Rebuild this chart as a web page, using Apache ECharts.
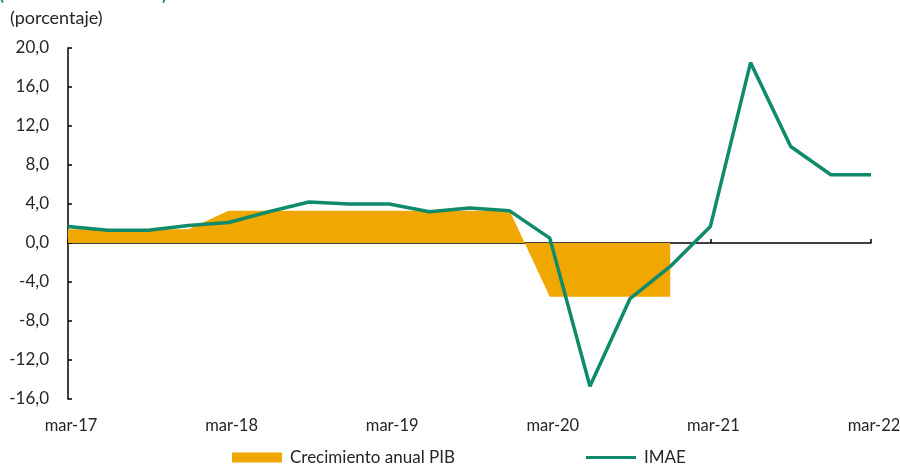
<!DOCTYPE html>
<html>
<head>
<meta charset="utf-8">
<script src="https://cdn.jsdelivr.net/npm/echarts@6/dist/echarts.min.js"></script>
<style>
  html, body { margin: 0; padding: 0; background: #fff; }
  #chart { width: 900px; height: 464px; }
</style>
</head>
<body>
<div id="chart"></div>
<script>
// trimestres mar-17 .. mar-22
const quarters = [
  'mar-17', 'jun-17', 'sep-17', 'dic-17',
  'mar-18', 'jun-18', 'sep-18', 'dic-18',
  'mar-19', 'jun-19', 'sep-19', 'dic-19',
  'mar-20', 'jun-20', 'sep-20', 'dic-20',
  'mar-21', 'jun-21', 'sep-21', 'dic-21',
  'mar-22'
]
const pib = [
  1.4, 1.4, 1.4, 1.4,
  3.3, 3.3, 3.3, 3.3,
  3.3, 3.3, 3.3, 3.3,
  -5.5, -5.5, -5.5, -5.5,
  null, null, null, null,
  null
]
const imae = [
  1.7, 1.3, 1.3, 1.8,
  2.1, 3.2, 4.2, 4.0,
  4.0, 3.2, 3.6, 3.3,
  0.5, -14.7, -5.7, -2.4,
  1.7, 18.5, 9.9, 7.0,
  7.0
]

const orange = '#f0a800'
const green = '#0f8a6b'
const font = 'Lato'
const txt = '#262626'
// thin line legend icon (extra points keep the 50x10 box)
const lineIcon = 'path://M0,0L0.01,0L0.01,0.01ZM0,3.6H50V6.4H0ZM49.99,10L50,10L50,9.99Z'

const chart = echarts.init(document.getElementById('chart'))
chart.setOption({
  animation: false,
  textStyle: { fontFamily: font },
  grid: { left: 68, right: 29, top: 48, bottom: 65, outerBoundsMode: 'none', containLabel: false },
  graphic: [
    { type: 'text', left: 10, top: 9, style: { text: '(porcentaje)', font: '18px Lato', fill: txt } },
    { type: 'text', left: -1, top: -15, style: { text: '(', font: 'bold 18px Lato', fill: green } },
    { type: 'text', left: 162, top: -15, style: { text: ')', font: 'bold 18px Lato', fill: green } }
  ],
  legend: {
    left: 227,
    top: 444,
    itemWidth: 50,
    itemHeight: 10,
    itemGap: 131,
    textStyle: { fontFamily: font, fontSize: 17, color: txt, padding: [0, 0, 0, 3] },
    data: [
      { name: 'Crecimiento anual PIB', icon: 'rect' },
      { name: 'IMAE', icon: lineIcon }
    ]
  },
  xAxis: [
    {
      type: 'category',
      data: quarters,
      boundaryGap: false,
      position: 'bottom',
      axisLine: { show: false, onZero: false },
      axisTick: { show: false },
      axisLabel: {
        interval: 3,
        margin: 18,
        padding: [0, 0, 0, 6],
        fontFamily: font,
        fontSize: 16.5,
        color: txt,
        formatter: (v, i) => (i % 4 === 0 ? v : '')
      }
    },
    {
      type: 'category',
      data: quarters,
      boundaryGap: false,
      position: 'bottom',
      axisLine: { show: true, onZero: true, lineStyle: { color: '#000', width: 1.5 } },
      axisTick: { show: true, inside: true, interval: 3, length: 4, lineStyle: { color: '#000', width: 1.5 } },
      axisLabel: { show: false }
    }
  ],
  yAxis: {
    type: 'value',
    min: -16,
    max: 20,
    interval: 4,
    splitLine: { show: false },
    axisLine: { show: true, lineStyle: { color: '#000', width: 1.5 } },
    axisTick: { show: true, inside: true, length: 4, lineStyle: { color: '#000', width: 1.5 } },
    axisLabel: {
      margin: 19,
      fontFamily: font,
      fontSize: 17,
      color: txt,
      formatter: v => v.toFixed(1).replace('.', ',')
    }
  },
  series: [
    {
      name: 'Crecimiento anual PIB',
      type: 'line',
      xAxisIndex: 0,
      data: pib,
      symbol: 'none',
      connectNulls: false,
      itemStyle: { color: orange },
      lineStyle: { width: 0, color: orange },
      areaStyle: { color: orange, opacity: 1 },
      z: 1
    },
    {
      name: 'IMAE',
      type: 'line',
      xAxisIndex: 0,
      data: imae,
      symbol: 'none',
      itemStyle: { color: green },
      lineStyle: { width: 3.5, color: green },
      z: 3
    }
  ]
})
</script>
</body>
</html>
